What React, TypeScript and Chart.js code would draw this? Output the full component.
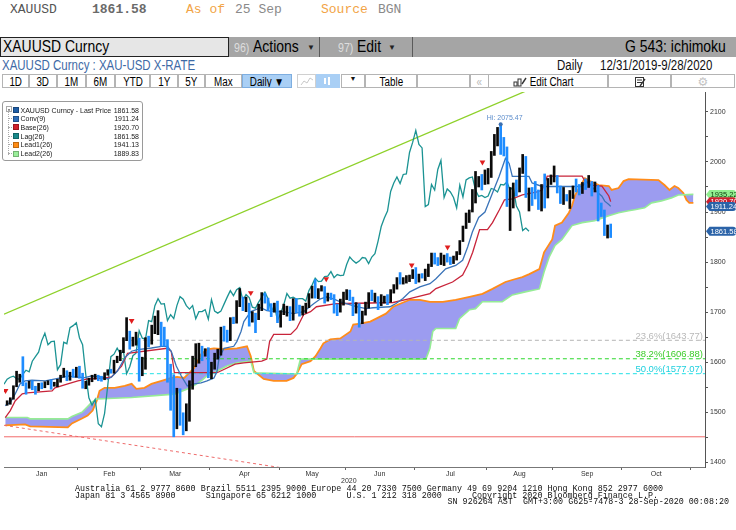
import React, { useEffect, useRef } from 'react';
import { Chart, registerables } from 'chart.js';

Chart.register(...registerables);

// ---- price bars: trading-day index 0 = 31 Dec 2019 ... 192 = 25 Sep 2020 ----
const opens = [
  1517, 1517, 1528, 1552, 1566, 1574, 1556, 1552, 1562, 1548, 1545, 1557, 1552, 1557, 1560, 1558, 1558, 1563, 1571, 1582, 1567, 1577, 1576,
  1589, 1576, 1553, 1556, 1566, 1570, 1572, 1567, 1566, 1576, 1584, 1581, 1602, 1611, 1620, 1643, 1658, 1635, 1641, 1642,
  1585, 1595, 1640, 1637, 1669, 1673, 1679, 1649, 1635, 1576, 1529, 1514, 1526, 1477, 1471, 1498, 1553, 1611, 1616, 1628, 1617, 1622,
  1577, 1591, 1613, 1618, 1663, 1648, 1646, 1683, 1681, 1713, 1727, 1716, 1717, 1683, 1695, 1687, 1713, 1731, 1726, 1713, 1706, 1713,
  1687, 1701, 1701, 1705, 1686, 1725, 1702, 1698, 1702, 1716, 1730, 1743, 1733, 1745, 1749, 1724, 1735, 1729, 1710, 1708, 1720,
  1730, 1740, 1727, 1700, 1714, 1683, 1698, 1715, 1737, 1728, 1730, 1726, 1727, 1727, 1722, 1743, 1754, 1768, 1761, 1762, 1771, 1772,
  1781, 1769, 1775, 1773, 1774, 1795, 1810, 1803, 1798, 1802, 1809, 1808, 1797, 1810, 1817, 1842, 1871, 1888, 1902, 1941, 1958, 1970, 1957,
  1975, 1976, 2019, 2039, 2063, 2035, 2028, 1911, 1915, 1955, 1944, 1985, 2003, 1929, 1946, 1940, 1929, 1908, 1954, 1930, 1964,
  1968, 1970, 1944, 1931, 1933, 1929, 1932, 1947, 1945, 1940, 1955, 1954, 1960, 1944, 1950, 1912, 1900, 1863, 1868,
];
const highs = [
  1523, 1529, 1553, 1582, 1576, 1611, 1559, 1562, 1563, 1552, 1558, 1559, 1561, 1563, 1565, 1560, 1566, 1574, 1588, 1583, 1580, 1586, 1590,
  1592, 1578, 1562, 1568, 1574, 1576, 1574, 1572, 1579, 1585, 1586, 1604, 1612, 1624, 1649, 1689, 1662, 1650, 1660, 1648,
  1610, 1649, 1652, 1674, 1692, 1703, 1680, 1670, 1645, 1596, 1575, 1548, 1547, 1499, 1517, 1563, 1612, 1637, 1638, 1632, 1627, 1629,
  1600, 1618, 1626, 1670, 1672, 1664, 1689, 1690, 1723, 1747, 1730, 1730, 1718, 1701, 1698, 1716, 1739, 1738, 1728, 1717, 1718, 1722,
  1703, 1716, 1712, 1711, 1727, 1727, 1714, 1712, 1718, 1737, 1752, 1765, 1747, 1753, 1751, 1738, 1738, 1735, 1716, 1726, 1740,
  1745, 1744, 1730, 1719, 1717, 1702, 1720, 1739, 1744, 1738, 1731, 1735, 1732, 1735, 1745, 1755, 1769, 1779, 1769, 1773, 1774, 1785,
  1789, 1776, 1777, 1786, 1796, 1818, 1818, 1809, 1818, 1814, 1817, 1810, 1812, 1821, 1843, 1872, 1898, 1904, 1945, 1981, 1971, 1975, 1984,
  1987, 2021, 2055, 2069, 2075.47, 2049, 2030, 1949, 1958, 1964, 1988, 2015, 2011, 1948, 1949, 1961, 1944, 1955, 1976, 1967, 1974,
  1992, 1973, 1952, 1949, 1935, 1943, 1952, 1966, 1955, 1959, 1966, 1973, 1961, 1960, 1953, 1918, 1904, 1874, 1876,
];
const lows = [
  1514, 1516, 1526, 1551, 1560, 1553, 1536, 1548, 1545, 1536, 1543, 1547, 1549, 1555, 1546, 1552, 1551, 1560, 1570, 1563, 1564, 1570, 1570,
  1568, 1548, 1547, 1554, 1561, 1566, 1563, 1562, 1565, 1574, 1578, 1578, 1599, 1603, 1619, 1643, 1626, 1632, 1634, 1562,
  1573, 1586, 1631, 1636, 1657, 1655, 1632, 1632, 1560, 1504, 1451.05, 1467, 1474, 1455, 1463, 1482, 1546, 1591, 1598, 1603, 1612, 1569,
  1567, 1586, 1606, 1614, 1642, 1640, 1643, 1677, 1678, 1711, 1703, 1701, 1672, 1680, 1659, 1685, 1703, 1718, 1703, 1691, 1700, 1679,
  1670, 1695, 1692, 1683, 1684, 1699, 1692, 1694, 1698, 1709, 1728, 1728, 1727, 1742, 1718, 1722, 1725, 1698, 1693, 1700, 1714,
  1725, 1723, 1693, 1698, 1670, 1677, 1694, 1708, 1723, 1720, 1705, 1713, 1718, 1715, 1720, 1738, 1746, 1756, 1756, 1758, 1761, 1767,
  1757, 1760, 1768, 1763, 1771, 1791, 1796, 1793, 1795, 1793, 1800, 1795, 1797, 1804, 1815, 1841, 1867, 1879, 1900, 1918, 1950, 1944, 1955,
  1956, 1969, 2013, 2032, 2015, 2012, 1911, 1863, 1908, 1932, 1940, 1977, 1929, 1902, 1913, 1926, 1905, 1902, 1908, 1928, 1955,
  1960, 1938, 1917, 1915, 1922, 1907, 1927, 1940, 1934, 1937, 1945, 1949, 1932, 1940, 1882, 1891, 1853, 1848, 1849,
];
const closes = [
  1517, 1528, 1552, 1566, 1574, 1556, 1552, 1562, 1548, 1545, 1557, 1552, 1557, 1560, 1558, 1558, 1563, 1571, 1582, 1567, 1577, 1576, 1589,
  1576, 1553, 1556, 1566, 1570, 1572, 1567, 1566, 1576, 1584, 1581, 1602, 1611, 1620, 1643, 1658, 1635, 1641, 1642, 1585,
  1595, 1640, 1637, 1669, 1673, 1679, 1649, 1635, 1576, 1529, 1514, 1526, 1477, 1471, 1498, 1553, 1611, 1616, 1628, 1617, 1622, 1577,
  1591, 1613, 1618, 1663, 1648, 1646, 1683, 1681, 1713, 1727, 1716, 1717, 1683, 1695, 1687, 1713, 1731, 1726, 1713, 1706, 1713, 1687,
  1701, 1701, 1705, 1686, 1725, 1702, 1698, 1702, 1716, 1730, 1743, 1733, 1745, 1749, 1724, 1735, 1729, 1710, 1708, 1720, 1730,
  1740, 1727, 1700, 1714, 1683, 1698, 1715, 1737, 1728, 1730, 1726, 1727, 1727, 1722, 1743, 1754, 1768, 1761, 1762, 1771, 1772, 1781,
  1769, 1775, 1773, 1774, 1795, 1810, 1803, 1798, 1802, 1809, 1808, 1797, 1810, 1817, 1842, 1871, 1888, 1902, 1941, 1958, 1970, 1957, 1975,
  1976, 2019, 2039, 2063, 2035, 2028, 1911, 1915, 1955, 1944, 1985, 2003, 1929, 1946, 1940, 1929, 1908, 1954, 1930, 1964, 1968,
  1970, 1944, 1931, 1933, 1929, 1932, 1947, 1945, 1940, 1955, 1954, 1960, 1944, 1950, 1912, 1900, 1863, 1868, 1861.58,
];

// ---- Ichimoku lines: [trading-day index, price] ----
const convLine = [
  [-0.6, 1513.2], [1.0, 1519.7], [2.6, 1536.9], [4.1, 1556.7], [5.7, 1562.6], [7.9, 1564], [12.1, 1562.6], [17.4, 1569.1],
  [19.3, 1572.5], [21.5, 1570.5], [24.7, 1569.1], [26.9, 1572.5], [30.1, 1570.5], [32.0, 1566.6], [33.2, 1570.5], [35.1, 1582.4],
  [37.4, 1608.7], [39.6, 1621.9], [41.5, 1625.3], [45.9, 1628.4], [49.1, 1631.8], [51.0, 1631.8], [52.2, 1621.9], [53.8, 1592.3],
  [55.4, 1572.5], [57.3, 1552.7], [59.5, 1556.7], [61.7, 1558.7], [63.6, 1562.6], [65.8, 1568.6], [66.8, 1582.4], [67.4, 1608.1],
  [69.0, 1627.8], [72.1, 1631.8], [73.1, 1641.7], [74.4, 1661.4], [75.3, 1681.2], [77.5, 1701], [80.7, 1708.8], [82.6, 1702.9],
  [84.8, 1701], [87.9, 1701], [91.1, 1697], [94.3, 1701], [97.5, 1716.8], [99.7, 1726.6], [101.6, 1730.6], [103.8, 1726.6],
  [106.0, 1720.7], [107.9, 1716.8], [111.1, 1710.8], [114.2, 1706.9], [116.4, 1708.8], [121.8, 1710.8], [123.7, 1717.3],
  [125.9, 1727.2], [128.1, 1740.5], [131.3, 1750.3], [134.5, 1756.9], [136.4, 1766.7], [139.5, 1786.5], [142.7, 1793.2],
  [144.9, 1803.7], [146.5, 1830], [148.0, 1860], [150.0, 1889], [152.0, 1900], [154.4, 1938], [156.5, 1971], [158.5, 2007],
  [159.7, 1997], [160.7, 1971], [166.0, 1971], [167.0, 1958], [170.2, 1951], [182.9, 1951], [184.4, 1961], [186.9, 1944.6],
  [189.2, 1931.5], [190.1, 1921.7], [191.4, 1915], [192, 1911.24],
];
const baseLine = [
  [-0.6, 1489.5], [1.0, 1503.3], [2.6, 1523.1], [4.8, 1536.9], [6.4, 1538.9], [14.3, 1542.8], [15.2, 1548.7], [19.3, 1556.7],
  [22.5, 1562.6], [25.7, 1566.5], [31.0, 1568.5], [33.2, 1570.5], [36.4, 1592.2], [38.3, 1617.9], [50.9, 1627.8], [52.2, 1621.9],
  [53.2, 1579], [66.8, 1579], [72.5, 1596.2], [75.3, 1598.8], [81.0, 1602.1], [82.6, 1606.1], [83.5, 1641.6], [84.8, 1655.5],
  [90.2, 1655.5], [92.1, 1667.4], [94.3, 1695], [96.5, 1701], [98.4, 1710.8], [104.7, 1716.8], [122.8, 1719.3], [128.1, 1727.2],
  [134.5, 1737.1], [136.4, 1747], [141.7, 1760.2], [144.9, 1774.1], [146.5, 1793.8], [148.1, 1819.5], [150.3, 1864.9],
  [152.8, 1864.9], [154.4, 1878.7], [156.6, 1904.4], [158.2, 1924.2], [160.7, 1926.2], [163.9, 1934.1], [168.6, 1940],
  [170.2, 1944], [171.8, 1971.6], [182.9, 1971.6], [183.8, 1961.8], [186.0, 1953.9], [189.2, 1951.9], [191.4, 1932.1], [192, 1920.7],
];
const lead1Line = [
  [-0.6, 1473.7], [5.7, 1475.7], [7.3, 1471.7], [19.3, 1469.8], [20.6, 1477.7], [23.8, 1487.5], [25.6, 1493.5], [27.2, 1503.4],
  [28.5, 1523.1], [29.4, 1542.9], [31.0, 1548.8], [34.2, 1548.8], [37.4, 1552.7], [39.6, 1556.7], [41.1, 1546.8], [43.7, 1548.8],
  [45.9, 1556.7], [49.1, 1562.6], [52.2, 1568.6], [54.1, 1570.5], [56.3, 1568.6], [59.5, 1588.3], [61.7, 1616], [63.6, 1625.9],
  [65.8, 1627.8], [69.0, 1625.9], [73.1, 1627.8], [76.3, 1631.8], [77.5, 1612], [78.5, 1582.4], [81.6, 1566.6], [84.8, 1562.6],
  [88.9, 1562.6], [91.1, 1568.6], [92.1, 1576.5], [93.7, 1596.2], [96.5, 1602.1], [98.1, 1612], [99.7, 1627.8], [100.6, 1637.7],
  [102.8, 1645.6], [106.0, 1647.6], [109.2, 1661.4], [110.1, 1675.3], [112.3, 1677.2], [115.5, 1681.2], [117.4, 1687.1],
  [120.5, 1697], [122.8, 1710.8], [125.0, 1716.8], [128.1, 1724.7], [131.3, 1724.7], [134.5, 1720.7], [138.6, 1720.7],
  [142.7, 1724.7], [147.1, 1730.6], [151.2, 1736.5], [154.4, 1746.4], [158.5, 1760.2], [161.7, 1766.2], [163.9, 1770.1],
  [166.1, 1776], [169.3, 1785.9], [170.8, 1819.5], [173.4, 1845.2], [174.3, 1872.9], [176.5, 1878.8], [178.7, 1898.6],
  [179.7, 1912.4], [180.6, 1932.1], [181.9, 1947.9], [183.8, 1967.7], [185.4, 1961.8], [188.2, 1953.9], [191.4, 1951.9],
  [192.3, 1944], [194.5, 1947.9], [196.1, 1961.8], [197.7, 1965.7], [207.2, 1963.8], [209.1, 1953.9], [210.7, 1944],
  [212.3, 1951.9], [213.5, 1947.9], [215.1, 1938.1], [216.1, 1924.2], [217.0, 1918.3], [218.3, 1918.3],
];
const lead2Line = [
  [-0.6, 1489.5], [6.4, 1489.5], [7.3, 1486.9], [19.3, 1486.9], [20.6, 1491.5], [23.8, 1500], [26.9, 1519.7], [28.5, 1526.5],
  [39.6, 1529.6], [53.2, 1536.3], [58.5, 1549.4], [61.7, 1562.6], [63.6, 1572.5], [66.8, 1582.4], [69.9, 1592.3], [73.1, 1598.8],
  [77.5, 1602.1], [78.5, 1579], [92.1, 1576.5], [93.3, 1606.1], [133.2, 1606.1], [134.5, 1627.8], [135.4, 1661.4], [136.4, 1667.4],
  [142.7, 1667.4], [143.9, 1687.1], [147.1, 1704.9], [149.0, 1706.9], [151.2, 1720.7], [157.5, 1720.7], [160.7, 1734.5],
  [164.8, 1740.5], [169.3, 1746.4], [170.8, 1780], [172.4, 1809.7], [174.3, 1833.3], [176.5, 1845.2], [179.7, 1872.9],
  [182.9, 1878.8], [186.9, 1882.7], [191.4, 1892.6], [194.5, 1898.6], [197.7, 1902.5], [199.6, 1904.4], [202.8, 1908.4],
  [205.0, 1918.3], [208.1, 1922.2], [211.3, 1928.2], [213.5, 1934.1], [218.3, 1935.22],
];
const lagShift = 26;

// ---- drawn studies ----
const marchLow = 1451.05;
const fibPercents = ['23.6%', '38.2%', '50.0%'];
const fibValues = [1643.77, 1606.88, 1577.07];
const fibStartIndex = 36.5;
const greenTrend = [[-1, 1696], [170, 2155]];
const redTrend = [[-1, 1474], [100, 1377]];
const sellSignalIndex = [-0.5, 39.6, 77.5, 101.5, 128.7, 140.1, 151.2];
const sellSignalPrice = [1543, 1683, 1738.6, 1766.3, 1794, 1829.6, 1999.5];
const highIndex = 157;
const highValue = 2075.47;

// ---- axes ----
const monthNames = ['Jan', 'Feb', 'Mar', 'Apr', 'May', 'Jun', 'Jul', 'Aug', 'Sep', 'Oct'];
const monthStarts = [-0.5, 22.5, 42.5, 64.5, 86.5, 107.5, 129.5, 152.5, 173.5, 195.5, 217.5];
const yTickValues = [1400, 1450, 1500, 1550, 1600, 1650, 1700, 1750, 1800, 1850, 1900, 1950, 2000, 2050, 2100];

// ---- legend / tags ----
const legendLabels = ['XAUUSD Curncy - Last Price', 'Conv(9)', 'Base(26)', 'Lag(26)', 'Lead1(26)', 'Lead2(26)'];
const legendValues = ['1861.58', '1911.24', '1920.70', '1861.58', '1941.13', '1889.83'];
const legendColors = ['#1f5ea6', '#2d6db8', '#cf1f2a', '#17898a', '#ff8c14', '#9aee9a'];
const tagValues = [1935.22, 1920.7, 1911.24, 1861.58];
const tagColors = ['#90ee90', '#cc2030', '#2b63a8', '#2b63a8'];
const tagText = ['#0b3d0b', '#ffffff', '#ffffff', '#ffffff'];

const SANS = "'Liberation Sans', Arial, sans-serif";
const MONO = "'Liberation Mono', 'DejaVu Sans Mono', monospace";

const COL = {
  conv: '#3a73b8',
  base: '#c8243a',
  lag: '#1b9393',
  lead1: '#ff8c1a',
  lead2: '#96ec96',
  cloud: '#9c9cf0',
  up: '#0a0a0a',
  down: '#1e8cff',
};

const pairs = (arr: number[][]) => arr.map(([x, y]) => ({ x, y }));

const overlayPlugin = {
  id: 'overlay',
  afterDatasetsDraw(chart: any) {
    const { ctx, chartArea } = chart;
    const xs = chart.scales.x;
    const ys = chart.scales.y;
    ctx.save();
    const fibText = ['#b9b9b9', '#3ccc2a', '#1fd0de'];
    ctx.font = `9.5px ${SANS}`;
    ctx.textAlign = 'right';
    ctx.textBaseline = 'alphabetic';
    fibValues.forEach((v, i) => {
      ctx.fillStyle = fibText[i];
      ctx.fillText(`${fibPercents[i]}(${v.toFixed(2)})`, chartArea.right - 2, ys.getPixelForValue(v) - 1.5);
    });
    const hx = xs.getPixelForValue(highIndex);
    const hy = ys.getPixelForValue(highValue);
    ctx.font = `7px ${SANS}`;
    ctx.textAlign = 'center';
    ctx.fillStyle = '#5b8ccb';
    ctx.fillText(`Hi: ${highValue.toFixed(2)}`, hx + 4, hy - 4);
    ctx.restore();
  },
  afterDraw(chart: any) {
    const { ctx, chartArea, width } = chart;
    const ys = chart.scales.y;
    ctx.save();
    ctx.font = `7.5px ${SANS}`;
    ctx.textBaseline = 'middle';
    ctx.textAlign = 'left';
    tagValues.forEach((v, i) => {
      const yy = ys.getPixelForValue(v);
      const x0 = chartArea.right + 1;
      const h = 4.5;
      ctx.beginPath();
      ctx.moveTo(x0, yy);
      ctx.lineTo(x0 + 3.5, yy - h);
      ctx.lineTo(width - 3, yy - h);
      ctx.quadraticCurveTo(width, yy - h, width, yy - h + 3);
      ctx.lineTo(width, yy + h - 3);
      ctx.quadraticCurveTo(width, yy + h, width - 3, yy + h);
      ctx.lineTo(x0 + 3.5, yy + h);
      ctx.closePath();
      ctx.fillStyle = tagColors[i];
      ctx.fill();
      ctx.fillStyle = tagText[i];
      ctx.fillText(v.toFixed(2), x0 + 4.5, yy + 0.5);
    });
    ctx.restore();
  },
};

function IchimokuChart() {
  const ref = useRef<HTMLCanvasElement | null>(null);
  useEffect(() => {
    const canvas = ref.current;
    if (!canvas) return;
    const idx = closes.map((_, i) => i);
    const barColors = idx.map((i) => (closes[i] >= opens[i] ? COL.up : COL.down));
    const boundaries = monthStarts.slice(1);
    const mids = monthNames.map((_, i) => (monthStarts[i] + monthStarts[i + 1]) / 2);
    const xTicks = [...mids, ...boundaries].sort((a, b) => a - b);
    const lagData = closes
      .map((c, i) => ({ x: i - lagShift, y: c }))
      .filter((p) => p.x >= -1);
    const fibDash = [4, 3];
    const fibColors = ['#b4b4b4', '#2ad82a', '#22e0e6'];
    const line = (extra: any) => ({
      type: 'line',
      pointRadius: 0,
      borderWidth: 1.2,
      tension: 0,
      fill: false,
      ...extra,
    });
    const datasets: any[] = [
      line({ label: 'Lead1', data: pairs(lead1Line), borderColor: COL.lead1, borderWidth: 1.8, fill: '+1', backgroundColor: COL.cloud, order: 20 }),
      line({ label: 'Lead2', data: pairs(lead2Line), borderColor: COL.lead2, borderWidth: 1.6, order: 19 }),
      line({ label: 'low', data: [{ x: -1, y: marchLow }, { x: 222, y: marchLow }], borderColor: '#f26a6a', borderWidth: 1, order: 16 }),
      ...fibValues.map((v, i) =>
        line({ label: fibPercents[i], data: [{ x: fibStartIndex, y: v }, { x: 222, y: v }], borderColor: fibColors[i], borderWidth: 1, borderDash: fibDash, order: 15 })
      ),
      line({ label: 'trendUp', data: pairs(greenTrend), borderColor: '#8ed12a', borderWidth: 1.3, order: 14 }),
      line({ label: 'trendDown', data: pairs(redTrend), borderColor: '#ee6a6a', borderWidth: 1, borderDash: [3, 3], order: 14 }),
      line({ label: 'Lag', data: lagData, borderColor: COL.lag, borderWidth: 1.3, order: 12 }),
      line({ label: 'Base', data: pairs(baseLine), borderColor: COL.base, borderWidth: 1.3, order: 11 }),
      line({ label: 'Conv', data: pairs(convLine), borderColor: COL.conv, borderWidth: 1.3, order: 10 }),
      {
        type: 'bar',
        label: 'XAUUSD',
        data: idx.map((i) => ({ x: i, y: [lows[i], highs[i]] })),
        backgroundColor: barColors,
        borderWidth: 0,
        barThickness: 2,
        grouped: false,
        order: 5,
      },
      {
        type: 'line',
        label: 'sell',
        showLine: false,
        data: sellSignalIndex.map((x, i) => ({ x, y: sellSignalPrice[i] })),
        pointStyle: 'triangle',
        rotation: 180,
        pointRadius: 3.3,
        pointBackgroundColor: '#e01e1e',
        pointBorderWidth: 0,
        order: 2,
      },
      {
        type: 'line',
        label: 'hi',
        showLine: false,
        data: [{ x: highIndex, y: highValue }],
        pointRadius: 2,
        pointBackgroundColor: '#3b6fb0',
        pointBorderWidth: 0,
        order: 1,
      },
    ];
    const chart = new Chart(canvas, {
      type: 'bar',
      data: { datasets },
      options: {
        animation: false,
        responsive: false,
        maintainAspectRatio: false,
        events: [],
        layout: { padding: 0 },
        plugins: { legend: { display: false }, tooltip: { enabled: false } },
        scales: {
          x: {
            type: 'linear',
            min: -1,
            max: 222,
            offset: false,
            afterBuildTicks: (s: any) => {
              s.ticks = xTicks.map((v) => ({ value: v }));
            },
            afterFit: (s: any) => {
              s.height = 23;
              s.paddingLeft = 0;
              s.paddingRight = 0;
            },
            ticks: {
              autoSkip: false,
              maxRotation: 0,
              minRotation: 0,
              padding: 0,
              color: '#333',
              font: { size: 7, family: SANS },
              callback: (v: any) => {
                const k = mids.indexOf(Number(v));
                return k >= 0 ? monthNames[k] : '';
              },
            },
            grid: {
              display: true,
              offset: false,
              drawOnChartArea: false,
              drawTicks: true,
              tickLength: 3,
              tickWidth: 1,
              tickColor: (c: any) => (c.tick && boundaries.includes(c.tick.value) ? '#666' : 'rgba(0,0,0,0)'),
            },
            border: { display: true, color: '#777', width: 1 },
          },
          y: {
            type: 'linear',
            position: 'right',
            min: 1390.7,
            max: 2139.7,
            afterBuildTicks: (s: any) => {
              s.ticks = yTickValues.map((v) => ({ value: v }));
            },
            afterFit: (s: any) => {
              s.width = 31;
              s.paddingTop = 0;
              s.paddingBottom = 0;
            },
            ticks: {
              autoSkip: false,
              padding: 2,
              color: '#333',
              font: { size: 7, family: SANS },
              callback: (v: any) => (Number(v) % 100 === 0 ? String(v) : ''),
            },
            grid: {
              display: true,
              drawOnChartArea: false,
              drawTicks: true,
              tickLength: 3,
              tickColor: '#555',
            },
            border: { display: true, color: '#555', width: 1 },
          },
        },
      },
      plugins: [overlayPlugin],
    } as any);
    return () => chart.destroy();
  }, []);
  return <canvas ref={ref} width={736} height={402} style={{ display: 'block', width: 736, height: 402 }} />;
}

const abs = (left: number, top: number, extra: any = {}) => ({ position: 'absolute' as const, left, top, whiteSpace: 'pre' as const, ...extra });

// condensed text: Liberation Sans squeezed horizontally (Arial Narrow look)
function N({ children, size, color = '#000', origin = 'left', weight = 'normal' }: any) {
  return (
    <span
      style={{
        display: 'inline-block',
        font: `${weight} ${size}px ${SANS}`,
        color,
        transform: 'scaleX(0.82)',
        transformOrigin: origin,
        whiteSpace: 'pre',
      }}
    >
      {children}
    </span>
  );
}

const rangeButtons = [
  ['1D', 2, 27], ['3D', 29, 28], ['1M', 57, 29], ['6M', 86, 29], ['YTD', 115, 35], ['1Y', 150, 28], ['5Y', 178, 27], ['Max', 205, 37],
];

function Header() {
  const btn = (left: number, width: number, extra: any = {}) => ({
    position: 'absolute' as const,
    left,
    top: 74,
    width,
    height: 14,
    boxSizing: 'border-box' as const,
    border: '1px solid #b4b4b4',
    background: '#fff',
    lineHeight: '12px',
    textAlign: 'center' as const,
    color: '#111',
    overflow: 'hidden',
    ...extra,
  });
  const row1 = (left: number, text: string, color: string, bold = false) => (
    <div style={abs(left, 2, { font: `${bold ? 'bold ' : ''}13px ${MONO}`, color, lineHeight: '16px' })}>{text}</div>
  );
  return (
    <>
      {row1(10, 'XAUUSD', '#555')}
      {row1(92, '1861.58', '#6a6a6a', true)}
      {row1(186, 'As of', '#f2a446')}
      {row1(235, '25 Sep', '#8a8a8a')}
      {row1(321, 'Source', '#f2a446')}
      {row1(378, 'BGN', '#8a8a8a')}

      <div style={abs(0, 37, { width: 736, height: 20, background: '#a5a5a5' })} />
      <div style={abs(0, 37, { width: 229, height: 20, boxSizing: 'border-box', border: '1px solid #222', background: '#e6e6e6' })} />
      <div style={abs(3, 37, { lineHeight: '20px' })}><N size={17}>XAUUSD Curncy</N></div>
      <div style={abs(234, 37, { lineHeight: '20px' })}><N size={13} color="#dedede">96)</N></div>
      <div style={abs(253, 37, { lineHeight: '20px' })}><N size={17}>Actions</N></div>
      <div style={abs(307, 38, { font: `8px ${SANS}`, lineHeight: '19px', color: '#222' })}>▼</div>
      <div style={abs(319, 37, { width: 1, height: 20, background: '#5a5a5a' })} />
      <div style={abs(338, 37, { lineHeight: '20px' })}><N size={13} color="#dedede">97)</N></div>
      <div style={abs(357, 37, { lineHeight: '20px' })}><N size={17}>Edit</N></div>
      <div style={abs(388, 38, { font: `8px ${SANS}`, lineHeight: '19px', color: '#222' })}>▼</div>
      <div style={abs(412, 37, { width: 1, height: 20, background: '#5a5a5a' })} />
      <div style={abs(500, 37, { width: 226, textAlign: 'right', lineHeight: '20px' })}>
        <N size={17} origin="right">G 543: ichimoku</N>
      </div>

      <div style={abs(2, 57, { lineHeight: '16px' })}><N size={14} color="#3e6aa6">XAUUSD Curncy : XAU-USD X-RATE</N></div>
      <div style={abs(557, 57, { lineHeight: '16px' })}><N size={14} color="#111">Daily</N></div>
      <div style={abs(600, 57, { lineHeight: '16px' })}><N size={14} color="#111">12/31/2019-9/28/2020</N></div>

      {rangeButtons.map(([t, l, w]) => (
        <div key={String(t)} style={btn(l as number, w as number)}><N size={12} origin="center">{t}</N></div>
      ))}
      <div style={btn(242, 50, { background: '#a9cff5', border: '1px solid #7eaee0' })}><N size={12} origin="center">Daily ▼</N></div>
      <div style={btn(297, 19, { border: '1px solid #d0d0d0' })}>
        <svg width="14" height="10" style={{ marginTop: 1 }}>
          <polyline points="1,9 4,5 7,7 10,2 13,4" fill="none" stroke="#c8c8c8" strokeWidth="1" />
        </svg>
      </div>
      <div style={btn(315.5, 24, { background: '#a9cff5', border: '1px solid #a9cff5' })}>
        <svg width="12" height="10" style={{ marginTop: 1 }}>
          <rect x="2" y="2" width="2" height="6" fill="#fff" />
          <rect x="6" y="1" width="2" height="8" fill="#fff" />
        </svg>
      </div>
      <div style={btn(341, 24, { font: `7px ${SANS}`, lineHeight: '12px' })}>▼</div>
      <div style={btn(365, 52)}><N size={12} origin="center">Table</N></div>
      <div style={btn(417, 53)} />
      <div style={btn(469.5, 19)}><N size={12} origin="center" color="#bbb">«</N></div>
      <div style={btn(488, 120)}>
        <svg width="14" height="11" style={{ verticalAlign: 'top', marginTop: 1 }}>
          <rect x="1" y="6" width="3" height="4" fill="none" stroke="#333" />
          <rect x="5" y="3" width="3" height="7" fill="none" stroke="#333" />
          <polyline points="9,8 13,2" stroke="#333" strokeWidth="1.4" />
        </svg>
        <N size={12}>{' Edit Chart'}</N>
      </div>
      <div style={btn(608, 63)}>
        <svg width="12" height="11" style={{ marginTop: 1 }}>
          <rect x="1.5" y="1.5" width="8" height="9" fill="none" stroke="#333" />
          <line x1="3" y1="4" x2="8" y2="4" stroke="#333" />
          <line x1="3" y1="6.5" x2="8" y2="6.5" stroke="#333" />
          <line x1="6" y1="10" x2="11" y2="3" stroke="#333" strokeWidth="1.3" />
        </svg>
      </div>
      <div style={btn(671, 64, { color: '#c4c4c4', font: `12px 'DejaVu Sans', sans-serif`, lineHeight: '12px' })}>⚙</div>
    </>
  );
}

function Legend() {
  return (
    <div style={abs(2, 101, { width: 141, height: 60, boxSizing: 'border-box', border: '1px solid #9a9a9a', borderRadius: 3, background: '#fff' })}>
      <div style={abs(3, 4, { width: 4, height: 4, border: '1px solid #aaa', background: '#fff' })}>
        <div style={abs(1, 2, { width: 2, height: 1, background: '#888' })} />
      </div>
      <div style={abs(5, 10, { width: 0, height: 43, borderLeft: '1px dotted #aaa' })} />
      {legendLabels.map((lab, i) => (
        <div key={lab} style={abs(0, 3.5 + i * 8.7, { width: 139, height: 9 })}>
          <div style={abs(5, 4, { width: 4, height: 0, borderTop: '1px dotted #aaa' })} />
          <div style={abs(9.5, 1.5, { width: 6, height: 6, boxSizing: 'border-box', background: legendColors[i], border: '1px solid rgba(0,0,0,0.25)' })} />
          <div style={abs(17.5, 0, { font: `7px ${SANS}`, lineHeight: '9px', color: '#1a1a1a' })}>{lab}</div>
          <div style={abs(0, 0, { width: 136, textAlign: 'right', font: `7px ${SANS}`, lineHeight: '9px', color: '#1a1a1a' })}>{legendValues[i]}</div>
        </div>
      ))}
    </div>
  );
}

const footerLine1 = 'Australia 61 2 9777 8600 Brazil 5511 2395 9000 Europe 44 20 7330 7500 Germany 49 69 9204 1210 Hong Kong 852 2977 6000';
const footerLine2 = 'Japan 81 3 4565 8900      Singapore 65 6212 1000      U.S. 1 212 318 2000      Copyright 2020 Bloomberg Finance L.P.';
const footerLine3 = 'SN 926264 AST  GMT+3:00 G625-7478-3 28-Sep-2020 00:08:20';

export default function App() {
  return (
    <div style={{ position: 'absolute', left: 0, top: 0, width: 736, height: 530, background: '#fff', overflow: 'hidden' }}>
      <Header />
      <div style={abs(0, 88, { width: 736, height: 402 })}>
        <IchimokuChart />
      </div>
      <Legend />
      <div style={abs(341, 477, { font: `7px ${SANS}`, lineHeight: '8px', color: '#333' })}>2020</div>
      <div style={abs(75, 486, { font: `8.4px ${MONO}`, lineHeight: '7px', color: '#111' })}>{footerLine1}</div>
      <div style={abs(75, 492.5, { font: `8.4px ${MONO}`, lineHeight: '7px', color: '#111' })}>{footerLine2}</div>
      <div style={abs(0, 498.5, { width: 729, textAlign: 'right', font: `8.4px ${MONO}`, lineHeight: '7px', color: '#111' })}>{footerLine3}</div>
    </div>
  );
}
